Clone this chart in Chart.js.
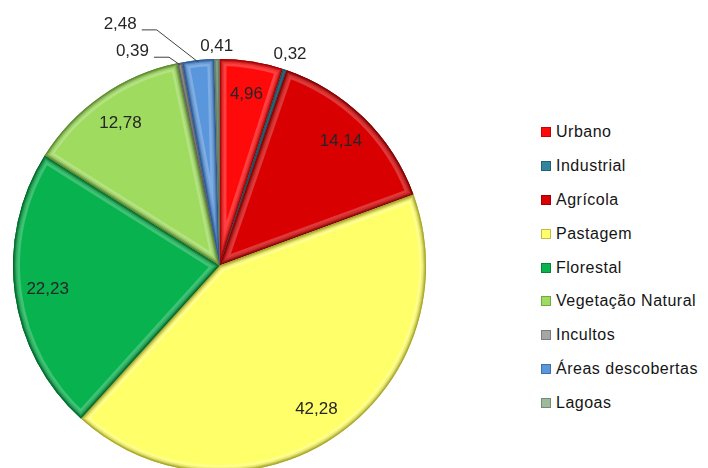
<!DOCTYPE html>
<html>
<head>
  <meta charset="utf-8">
  <title>Uso do solo</title>
  <style>
    body { margin: 0; background: #fff; }
    #wrap { position: relative; width: 708px; height: 468px; overflow: hidden; }
    #pie { position: absolute; left: 0; top: 0; }
    #legenda {
      position: absolute; left: 541px; top: 115px; margin: 0; padding: 0;
      list-style: none; font: 16px "Liberation Sans", Arial, sans-serif; color: #151515;
    }
    #legenda li { height: 33.9px; display: flex; align-items: center; white-space: nowrap; letter-spacing: 0.5px; }
    #legenda .caixa { width: 10px; height: 10px; margin-right: 5px; box-sizing: border-box; border: 1px solid rgba(0,0,0,0.25); }
  </style>
</head>
<body>
<script src="https://cdn.jsdelivr.net/npm/chart.js@4/dist/chart.umd.min.js"></script>
<div id="wrap">
  <canvas id="pie" width="440" height="480"></canvas>
  <ul id="legenda"></ul>
</div>
<script>
  var categorias = ['Urbano', 'Industrial', 'Agrícola', 'Pastagem', 'Florestal',
                    'Vegetação Natural', 'Incultos', 'Áreas descobertas', 'Lagoas'];
  var percentagens = [4.96, 0.32, 14.14, 42.28, 22.23, 12.78, 0.39, 2.48, 0.41];

  var cores = ['#ff0a0a', '#31859c', '#d80000', '#ffff6a', '#08b24e',
               '#9edb5e', '#a6a6a6', '#5a96dc', '#9bbb9b'];
  var sombras = ['#a00000', '#1d5060', '#800000', '#a8a830', '#006a2c',
                 '#5d8a30', '#606060', '#2a5a96', '#5f7a5f'];

  // fatias pequenas: rótulo fora da pizza (desvio em graus, distância em raios)
  var rotulosFora = {
    'Industrial': { desvio: 0, dist: 1.08 },
    'Lagoas': { desvio: 0, dist: 1.06 },
    'Incultos': { desvio: -11, dist: 1.12, guia: true },
    'Áreas descobertas': { desvio: -16.4, dist: 1.265, guia: true }
  };

  function numeroPt(v) {
    return v.toFixed(2).replace('.', ',');
  }

  function caminhoFatia(ctx, p) {
    ctx.beginPath();
    ctx.moveTo(p.x, p.y);
    ctx.arc(p.x, p.y, p.outerRadius, p.startAngle, p.endAngle);
    ctx.closePath();
  }

  // bordas chanfradas de cada fatia: brilho leve e sombra em degradê
  var relevo = {
    id: 'relevo',
    afterDatasetsDraw: function(chart) {
      var ctx = chart.ctx;
      chart.getDatasetMeta(0).data.forEach(function(arc, i) {
        var p = arc.getProps(['x', 'y', 'startAngle', 'endAngle', 'outerRadius'], true);
        ctx.save();
        caminhoFatia(ctx, p);
        ctx.clip();
        ctx.lineJoin = 'round';
        ctx.strokeStyle = 'rgba(255,255,255,0.22)';
        ctx.lineWidth = 14;
        ctx.stroke();
        [[9, '30'], [6, '50'], [4, '80'], [2, 'ff']].forEach(function(c) {
          ctx.strokeStyle = sombras[i] + c[1];
          ctx.lineWidth = c[0];
          ctx.stroke();
        });
        ctx.restore();
      });
    }
  };

  var valores = {
    id: 'valores',
    afterDatasetsDraw: function(chart) {
      var ctx = chart.ctx;
      ctx.save();
      ctx.font = '17px "Liberation Sans", Arial, sans-serif';
      ctx.fillStyle = '#262626';
      ctx.strokeStyle = '#404040';
      ctx.lineWidth = 1;
      ctx.textAlign = 'center';
      ctx.textBaseline = 'middle';
      chart.getDatasetMeta(0).data.forEach(function(arc, i) {
        var p = arc.getProps(['x', 'y', 'startAngle', 'endAngle', 'outerRadius'], true);
        var meio = (p.startAngle + p.endAngle) / 2;
        var texto = numeroPt(percentagens[i]);
        var fora = rotulosFora[categorias[i]];
        if (!fora) {
          var r = p.outerRadius * 0.84;
          ctx.fillText(texto, p.x + r * Math.cos(meio), p.y + r * Math.sin(meio));
          return;
        }
        var ang = meio + fora.desvio * Math.PI / 180;
        var lx = p.x + p.outerRadius * fora.dist * Math.cos(ang);
        var ly = p.y + p.outerRadius * fora.dist * Math.sin(ang);
        ctx.fillText(texto, lx, ly);
        if (fora.guia) {
          var x0 = lx + ctx.measureText(texto).width / 2 + 5;
          var ax = p.x + p.outerRadius * 0.99 * Math.cos(meio);
          var ay = p.y + p.outerRadius * 0.99 * Math.sin(meio);
          ctx.beginPath();
          ctx.moveTo(x0, ly + 6);
          ctx.lineTo(x0 + 15, ly + 6);
          ctx.lineTo(ax, ay);
          ctx.stroke();
        }
      });
      ctx.restore();
    }
  };

  var grafico = new Chart(document.getElementById('pie'), {
    type: 'pie',
    data: {
      labels: categorias,
      datasets: [{
        data: percentagens,
        backgroundColor: cores,
        borderWidth: 0
      }]
    },
    options: {
      responsive: false,
      animation: false,
      layout: { padding: { left: 13, right: 14, top: 59, bottom: 8 } },
      plugins: {
        legend: { display: false },
        tooltip: { enabled: false }
      }
    },
    plugins: [relevo, valores]
  });

  // legenda em HTML a partir dos itens gerados pelo próprio gráfico
  var itens = grafico.options.plugins.legend.labels.generateLabels(grafico);
  var lista = document.getElementById('legenda');
  itens.forEach(function(item) {
    var li = document.createElement('li');
    var caixa = document.createElement('span');
    caixa.className = 'caixa';
    caixa.style.background = item.fillStyle;
    li.appendChild(caixa);
    li.appendChild(document.createTextNode(item.text));
    lista.appendChild(li);
  });
</script>
</body>
</html>
